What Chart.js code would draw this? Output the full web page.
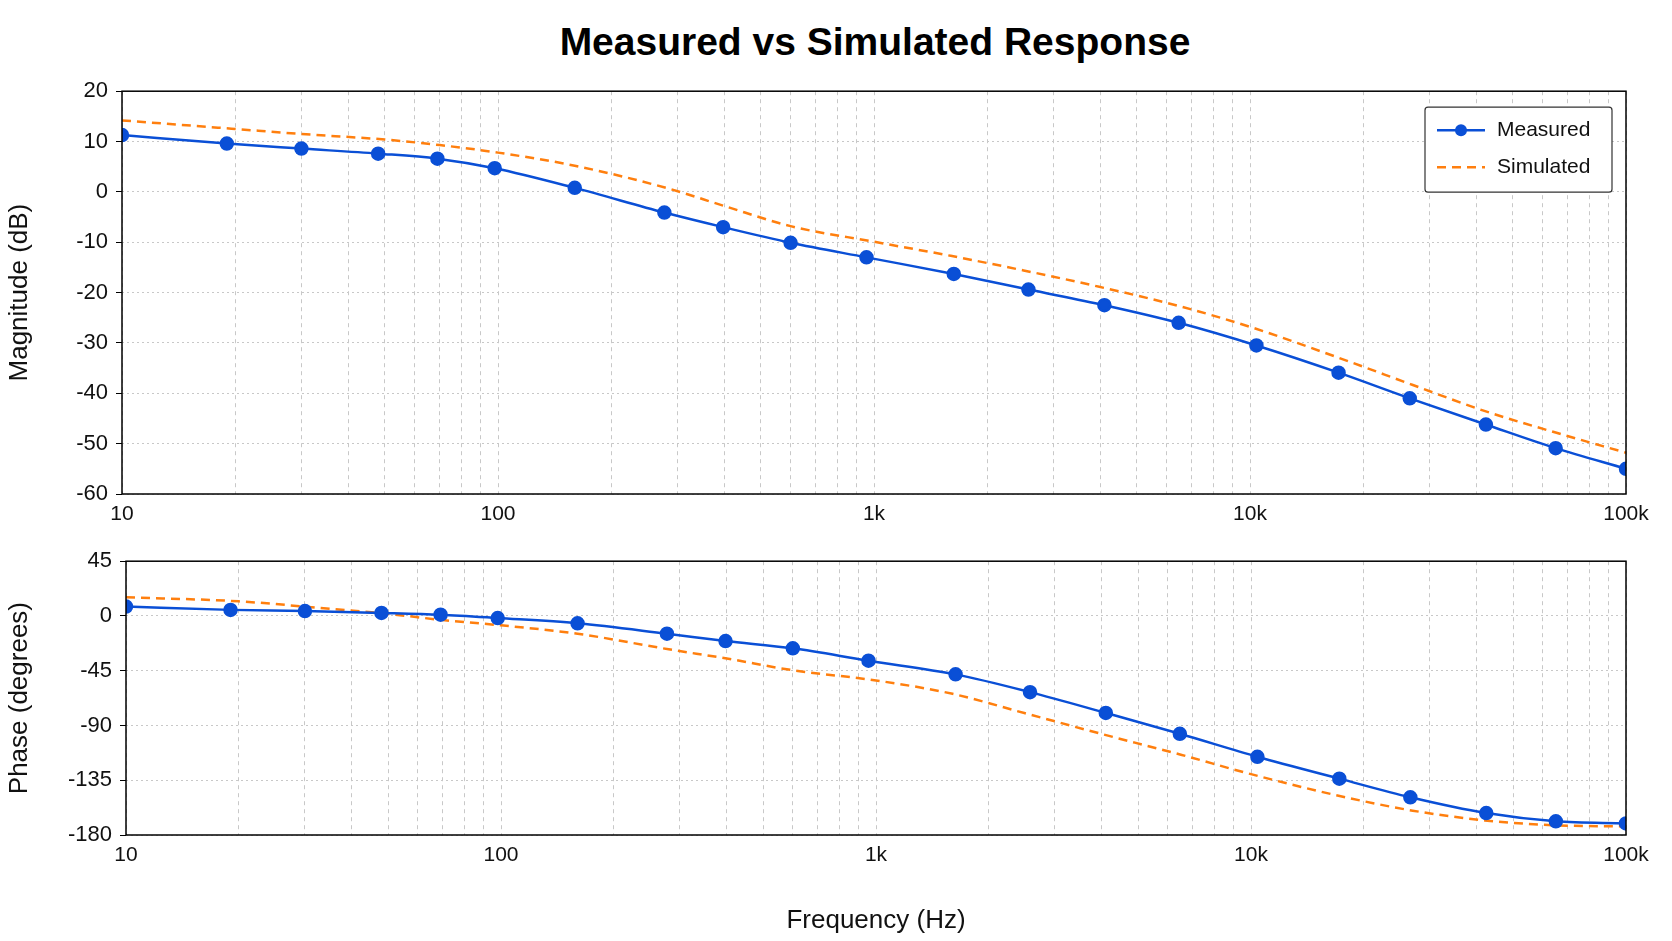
<!DOCTYPE html>
<html><head><meta charset="utf-8">
<script src="https://cdn.jsdelivr.net/npm/chart.js@4"></script>
<style>
body{margin:0;background:#fff;width:1672px;height:941px;position:relative;overflow:hidden;font-family:"Liberation Sans",Arial,sans-serif}
#title{position:absolute;top:20px;left:120px;width:1510px;text-align:center;font-weight:bold;font-size:39px;color:#000}
.box{position:absolute;left:0;width:1672px}
</style></head><body>
<div id="title">Measured vs Simulated Response</div>
<div class="box" style="top:70px;height:460px"><canvas id="c1"></canvas></div>
<div class="box" style="top:540px;height:400px"><canvas id="c2"></canvas></div>
<script>
const measuredFreq=[10,19,30,48,69,98,160,277,397,600,955,1630,2575,4100,6460,10400,17200,26600,42400,65000,100000];
const measuredMag=[11.3,9.6,8.6,7.6,6.6,4.7,0.8,-4.1,-7.0,-10.1,-13.0,-16.3,-19.4,-22.5,-26.0,-30.5,-35.9,-41.0,-46.2,-50.9,-55.0];
const measuredPhase=[7.7,5,4,2.5,1,-1.7,-6,-14.6,-20.6,-26.6,-36.8,-48,-62.6,-79.7,-96.8,-115.7,-133.7,-149,-162,-168.8,-170.5];
const simFreq=[10,20,30,50,70,100,160,280,400,600,1000,1600,2500,4000,6500,10000,17000,27000,42000,65000,100000];
const simMag=[14.2,12.5,11.5,10.4,9.3,7.8,5.2,0.8,-2.8,-6.8,-9.9,-12.7,-15.6,-18.9,-22.7,-26.8,-32.8,-38.3,-43.5,-47.8,-51.8];
const simPhase=[15.4,12,7.7,1.7,-3.4,-7.7,-14.6,-27.4,-35,-44.6,-53,-64,-80,-97,-114,-130,-147.5,-160,-168,-172,-173];
const decadeLabels={10:'10',100:'100',1000:'1k',10000:'10k',100000:'100k'};
const seriesNames=['Measured','Simulated'];
const BLUE='#0a4fd6',ORANGE='#ff7f0e';
const FONT='"Liberation Sans", Arial, sans-serif';
const pts=(xs,ys)=>xs.map((x,i)=>({x,y:ys[i]}));

const frame={id:'frame',afterDraw(c){const a=c.chartArea,x=c.ctx;x.save();x.strokeStyle='#000';x.lineWidth=1.5;x.strokeRect(a.left,a.top,a.right-a.left,a.bottom-a.top);x.restore();}};
const legendPlug={id:'lg',afterDraw(c){if(!c.options.plugins.lg||!c.options.plugins.lg.show)return;const x=c.ctx,a=c.chartArea;const w=187,h=85,l=a.right-14-w,t=a.top+16;
x.save();x.fillStyle='#fff';x.strokeStyle='#333';x.lineWidth=1.2;x.beginPath();x.roundRect(l,t,w,h,3);x.fill();x.stroke();
x.font='21px '+FONT;x.fillStyle='#111';x.textBaseline='middle';
let y=t+23;x.strokeStyle=BLUE;x.lineWidth=2.5;x.setLineDash([]);x.beginPath();x.moveTo(l+12,y);x.lineTo(l+60,y);x.stroke();x.fillStyle=BLUE;x.beginPath();x.arc(l+36,y,6,0,7);x.fill();x.fillStyle='#111';x.fillText(seriesNames[0],l+72,y);
y=t+60;x.strokeStyle=ORANGE;x.setLineDash([9,6]);x.beginPath();x.moveTo(l+12,y);x.lineTo(l+60,y);x.stroke();x.setLineDash([]);x.fillText(seriesNames[1],l+72,y);x.restore();}};

function make(id,mY,sY,yOpt,yTitle,axisH,yW,pad,showLegend,xTitle){
 return new Chart(document.getElementById(id),{type:'line',
 data:{datasets:[
  {label:seriesNames[0],data:pts(measuredFreq,mY),borderColor:BLUE,backgroundColor:BLUE,borderWidth:2.5,pointRadius:6,pointHoverRadius:6,tension:0.3,cubicInterpolationMode:'monotone'},
  {label:seriesNames[1],data:pts(simFreq,sY),borderColor:ORANGE,borderWidth:2.5,borderDash:[9,6],pointRadius:0,tension:0.4,cubicInterpolationMode:'monotone'}]},
 options:{responsive:true,maintainAspectRatio:false,animation:false,
  layout:{padding:{top:pad,right:46,left:0,bottom:0}},
  plugins:{legend:{display:false},tooltip:{enabled:false},lg:{show:showLegend}},
  scales:{
   x:{type:'logarithmic',min:10,max:100000,
    afterFit(s){s.height=axisH;},
    afterBuildTicks(s){const t=[];for(let d=10;d<=100000;d*=10){for(let k=1;k<10;k++){const v=d*k;if(v<=100000)t.push({value:v});}}s.ticks=t;},
    ticks:{autoSkip:false,maxRotation:0,color:'#111',font:{size:21,family:FONT},padding:8,callback:(v)=>decadeLabels[v]||''},
    grid:{color:'#c8c8c8',lineWidth:1,tickLength:0,drawTicks:false},border:{display:false,dash:[4,4]},
    title:{display:!!xTitle,text:xTitle||'',color:'#111',font:{size:26,family:FONT},padding:{top:6}}},
   y:Object.assign({afterFit(s){s.width=yW;},
    ticks:{color:'#111',font:{size:21,family:FONT},padding:8},
    grid:{color:'#c8c8c8',lineWidth:1,drawTicks:true,tickLength:6,tickColor:'#000'},border:{display:false,dash:[2,3]},
    title:{display:true,text:yTitle,color:'#111',font:{size:26,family:FONT},padding:{bottom:6}}},yOpt)
  }},plugins:[frame,legendPlug]});
}
const c1=make('c1',measuredMag,simMag,{min:-60,max:20,ticks:{stepSize:10,color:'#111',font:{size:22,family:FONT},padding:8}},'Magnitude (dB)',36,122,1,true,null);
const c2=make('c2',measuredPhase,simPhase,{min:-180,max:45,ticks:{stepSize:45,color:'#111',font:{size:22,family:FONT},padding:8}},'Phase (degrees)',105,126,9,false,'Frequency (Hz)');
</script></body></html>
